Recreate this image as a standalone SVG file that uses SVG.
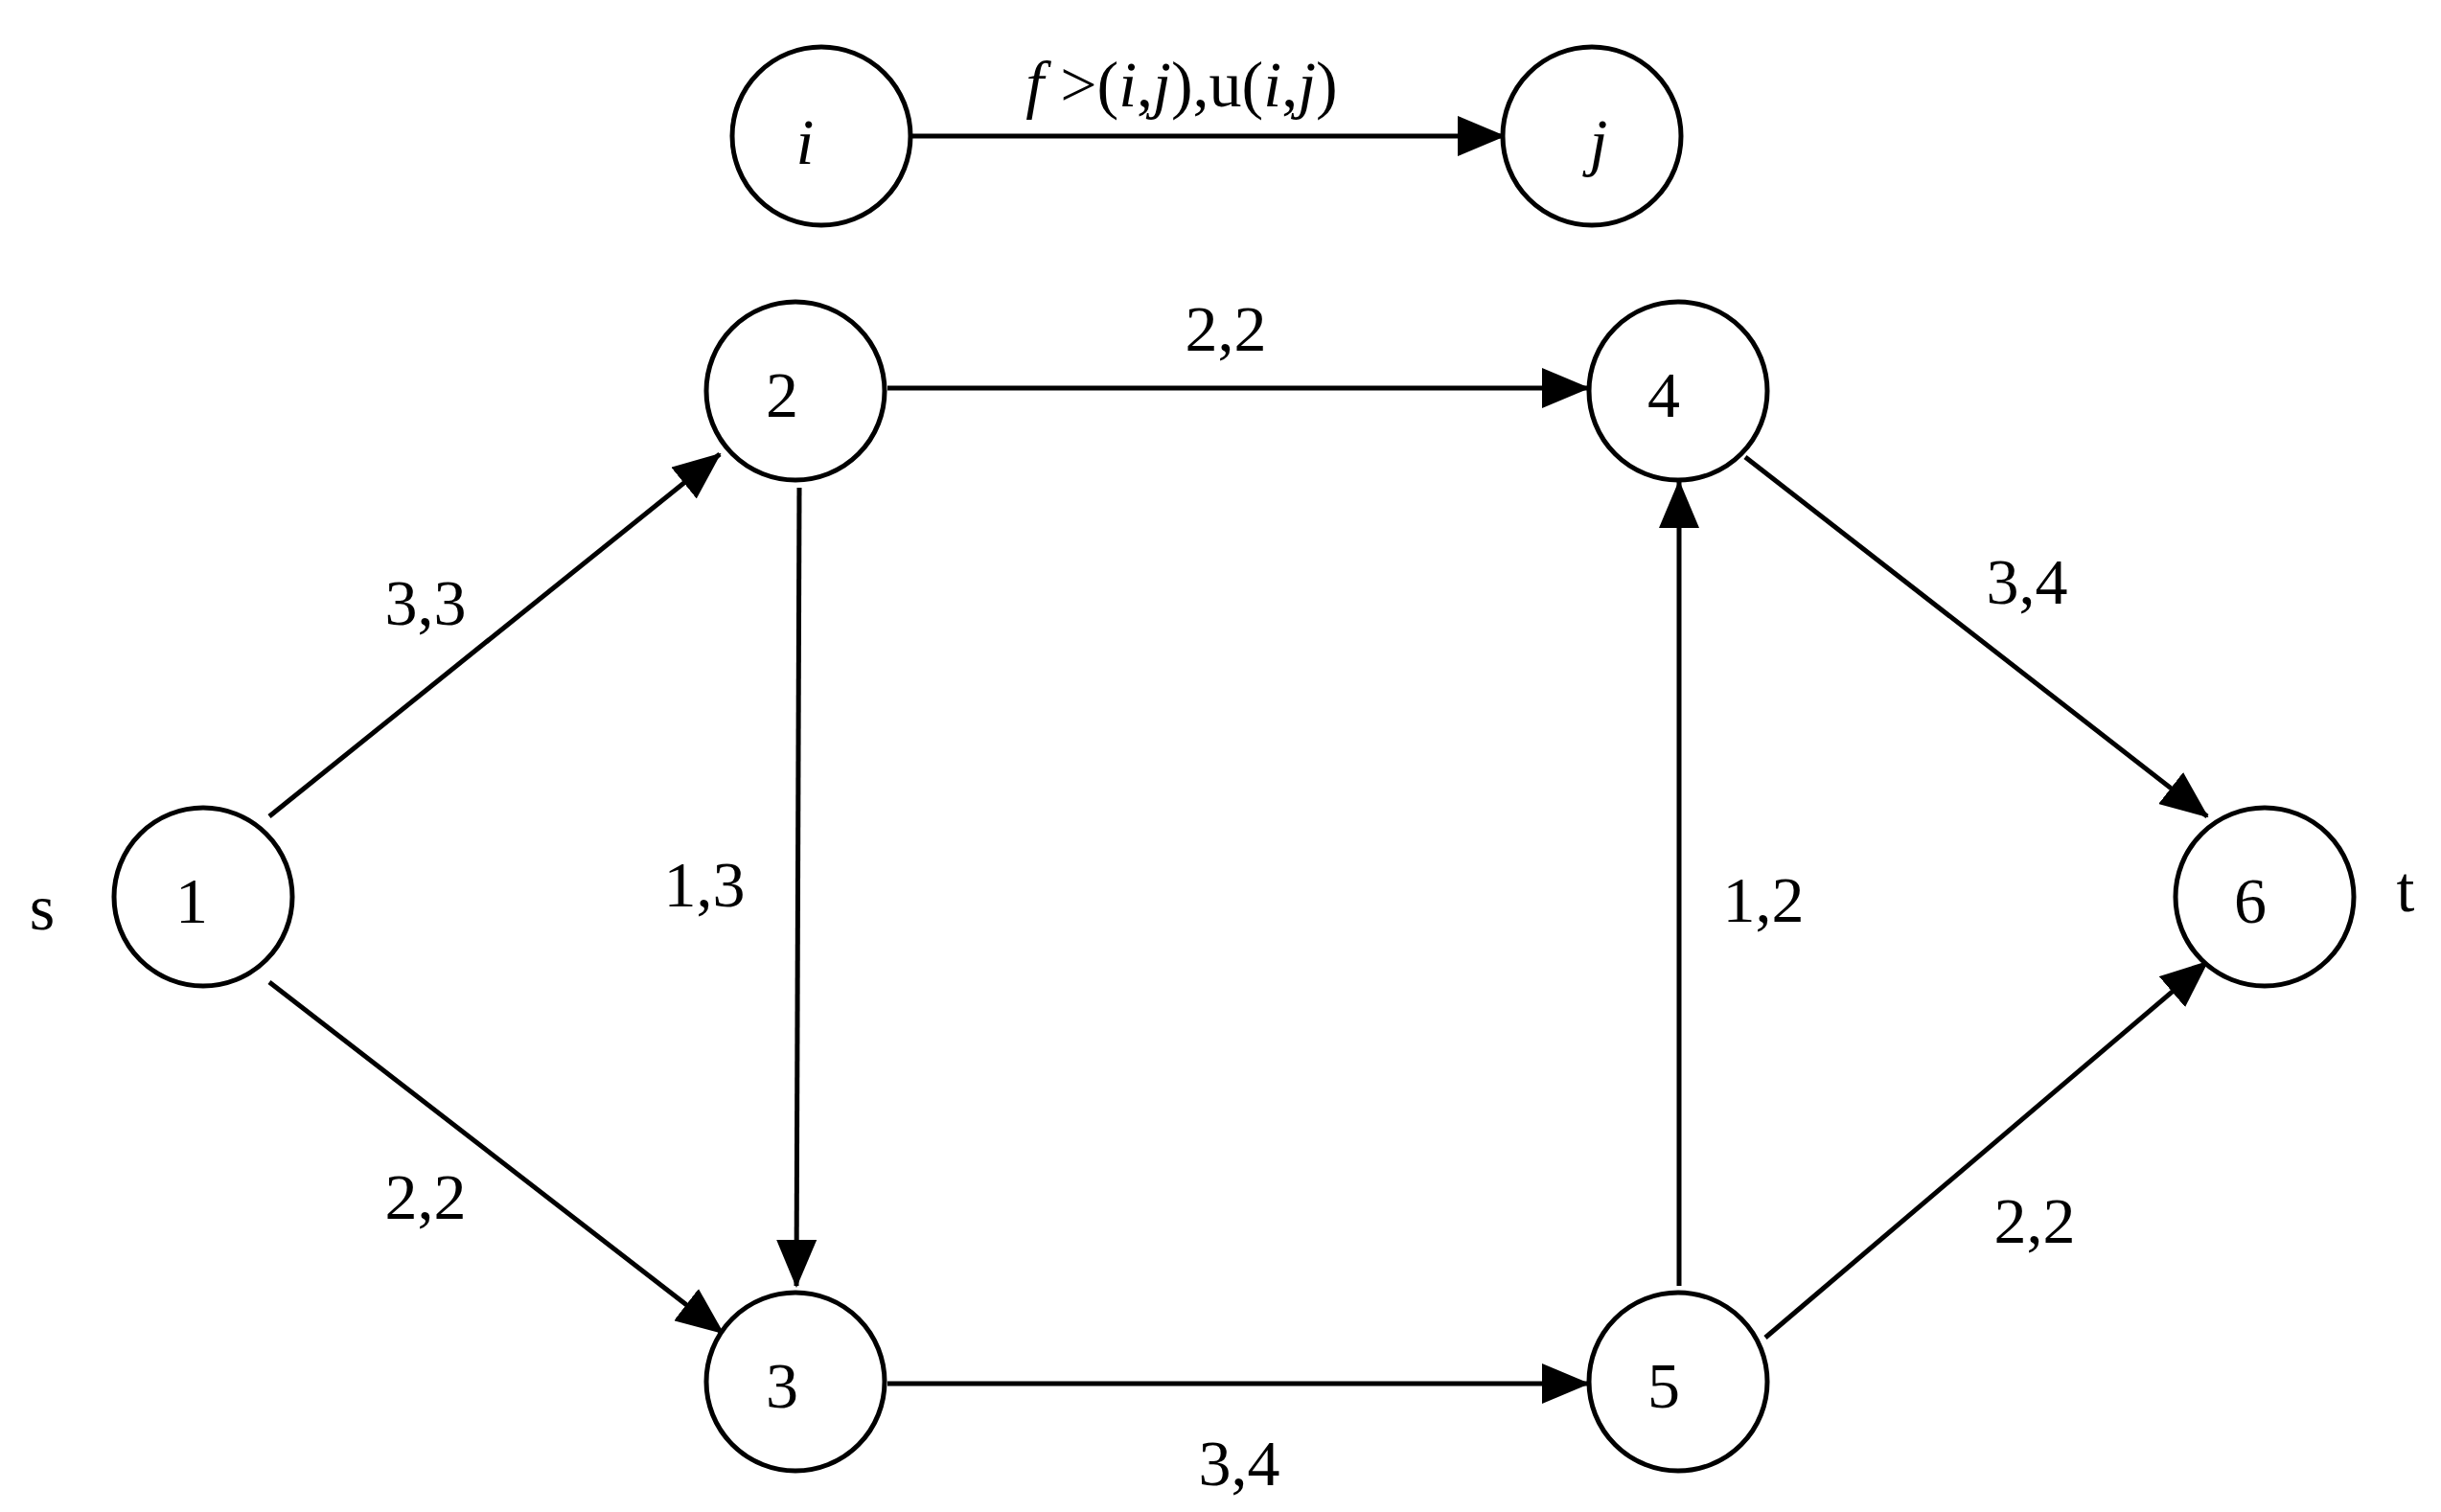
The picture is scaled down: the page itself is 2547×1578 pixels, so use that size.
<svg xmlns="http://www.w3.org/2000/svg" width="2547" height="1578" viewBox="0 0 2547 1578">
<style>
.n{fill:#fff;stroke:#000;stroke-width:5}
.t{font-family:"Liberation Serif",serif;font-size:68px;text-anchor:middle;dominant-baseline:central;fill:#000}
.it{font-style:italic}
.e{stroke:#000;stroke-width:5;fill:none;marker-end:url(#a)}
</style>
<defs><marker id="a" markerUnits="userSpaceOnUse" markerWidth="50" markerHeight="42" refX="48" refY="21" orient="auto"><path d="M0,0 L50,21 L0,42 Z" fill="#000"/></marker></defs>
<rect width="2547" height="1578" fill="#fff"/>
<g id="connectors">
<line class="e" x1="952" y1="142" x2="1569" y2="142"/>
<line class="e" x1="281" y1="852" x2="751" y2="474"/>
<line class="e" x1="281" y1="1025" x2="754" y2="1391"/>
<line class="e" x1="926" y1="405" x2="1657" y2="405"/>
<line class="e" x1="834" y1="509" x2="831" y2="1342"/>
<line class="e" x1="926" y1="1444" x2="1657" y2="1444"/>
<line class="e" x1="1752" y1="1342" x2="1752" y2="503"/>
<line class="e" x1="1821" y1="477" x2="2303" y2="852"/>
<line class="e" x1="1842" y1="1396" x2="2303" y2="1004"/>
</g>
<g id="labels">
<text class="t" x="1233" y="88"><tspan class="it">f</tspan> ˃(<tspan class="it">i</tspan>,<tspan class="it">j</tspan>),u(<tspan class="it">i</tspan>,<tspan class="it">j</tspan>)</text>
<text class="t" x="444" y="629">3,3</text>
<text class="t" x="1279" y="343">2,2</text>
<text class="t" x="2115" y="607">3,4</text>
<text class="t" x="735" y="923">1,3</text>
<text class="t" x="1840" y="939">1,2</text>
<text class="t" x="444" y="1249">2,2</text>
<text class="t" x="2123" y="1274">2,2</text>
<text class="t" x="1293" y="1527">3,4</text>
<text class="t" x="44" y="947">s</text>
<text class="t" x="2510" y="928">t</text>
</g>
<g id="node-i"><circle class="n" cx="857" cy="142" r="93"/><text class="t it" x="840" y="148">i</text></g>
<g id="node-j"><circle class="n" cx="1661" cy="142" r="93"/><text class="t it" x="1668" y="148">j</text></g>
<g id="node-1"><circle class="n" cx="212" cy="936" r="93"/><text class="t" x="200" y="940">1</text></g>
<g id="node-2"><circle class="n" cx="830" cy="408" r="93"/><text class="t" x="816" y="412">2</text></g>
<g id="node-3"><circle class="n" cx="830" cy="1442" r="93"/><text class="t" x="816" y="1446">3</text></g>
<g id="node-4"><circle class="n" cx="1751" cy="408" r="93"/><text class="t" x="1736" y="412">4</text></g>
<g id="node-5"><circle class="n" cx="1751" cy="1442" r="93"/><text class="t" x="1736" y="1446">5</text></g>
<g id="node-6"><circle class="n" cx="2363" cy="936" r="93"/><text class="t" x="2348" y="940">6</text></g>
</svg>
